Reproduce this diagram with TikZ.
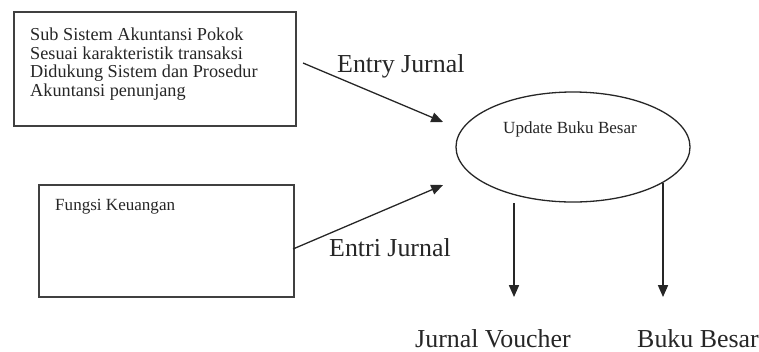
\documentclass[tikz,border=0pt]{standalone}
\usepackage{fontspec}
\setmainfont{Liberation Serif}
\usetikzlibrary{arrows.meta,shapes.geometric}

\begin{document}
\begin{tikzpicture}[x=0.85pt,y=-0.85pt,
    panel/.style={draw=black!75, line width=1.3pt, anchor=north west, inner sep=0pt},
    proc/.style={draw=black!85, ellipse, line width=1.1pt, inner sep=0pt,
                 minimum width=198.9pt, minimum height=93.5pt},
    small/.style={inner sep=0pt, font=\fontsize{14.5pt}{15.7pt}\selectfont, text=black!85},
    big/.style={inner sep=0pt, anchor=base west, font=\fontsize{22pt}{26pt}\selectfont, text=black!85},
    flow/.style={-{Triangle[length=10pt,width=8.5pt]}, line width=1.1pt, draw=black!85}]
  \useasboundingbox (0,0) rectangle (759,351);
  % sources
  \node[panel, minimum width=239.7pt, minimum height=96.9pt] (sub) at (13,11) {};
  \node[small, anchor=north west, align=left, font=\fontsize{15.5pt}{15.7pt}\selectfont] (subtxt) at (30,28)
       {Sub Sistem Akuntansi Pokok\\Sesuai karakteristik transaksi\\Didukung Sistem dan Prosedur\\Akuntansi penunjang};
  \node[panel, minimum width=216.8pt, minimum height=95.2pt] (keu) at (38,184) {};
  \node[small, anchor=base west] (keutxt) at (55,210) {Fungsi Keuangan};
  % process
  \node[proc] (upd) at (573,147) {};
  \node[small, anchor=base west] (updtxt) at (503,133) {Update Buku Besar};
  % outputs
  \node[big] (jv) at (415,347) {Jurnal Voucher};
  \node[big] (bb) at (637,347) {Buku Besar};
  % arrow ends
  \coordinate (e1a) at (303,63);
  \coordinate (e1b) at (443,122);
  \coordinate (e2a) at (293,249);
  \coordinate (e2b) at (443,185);
  \coordinate (o1a) at (514,203);
  \coordinate (o1b) at (514,297);
  \coordinate (o2a) at (663,183);
  \coordinate (o2b) at (663,297);
  \draw[flow] (e1a) -- (e1b);
  \draw[flow] (e2a) -- (e2b);
  \draw[flow] (o1a) -- (o1b);
  \draw[flow] (o2a) -- (o2b);
  % labels
  \node[big] (entry) at (337,72) {Entry Jurnal};
  \node[big] (entri) at (329,256) {Entri Jurnal};
\end{tikzpicture}
\end{document}
